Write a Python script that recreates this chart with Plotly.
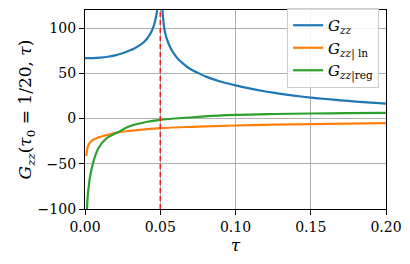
import plotly.graph_objects as go

# ---- data ----
tau0 = 0.05

tau_blue_left = [0.0, 0.005, 0.01, 0.015, 0.02, 0.025, 0.03, 0.033, 0.036, 0.039, 0.041, 0.043, 0.045, 0.046, 0.047, 0.048, 0.0487, 0.0493]
g_blue_left = [66.7, 66.9, 67.4, 68.3, 69.8, 72.1, 75.4, 77.8, 80.7, 84.4, 87.9, 92.6, 99.3, 104.3, 110.8, 120.3, 131.0, 145.0]
tau_blue_right = [0.0507, 0.0512, 0.0515, 0.052, 0.0526, 0.0535, 0.0548, 0.057, 0.0592, 0.062, 0.065, 0.068, 0.072, 0.076, 0.08,
                  0.085, 0.09, 0.095, 0.1, 0.11, 0.12, 0.13, 0.14, 0.15, 0.16, 0.17, 0.18, 0.19, 0.2]
g_blue_right = [145.0, 128.0, 119.0, 109.0, 100.5, 93.0, 86.0, 77.5, 71.4, 65.5, 60.9, 57.0, 52.9, 49.7, 46.6,
                43.6, 41.0, 38.7, 36.6, 33.0, 29.9, 27.3, 25.1, 23.2, 21.6, 20.1, 18.8, 17.6, 16.6]

tau_ln = [0.0009, 0.0013, 0.002, 0.003, 0.0046, 0.009, 0.0156, 0.022, 0.0296, 0.04, 0.05, 0.075, 0.1, 0.125, 0.15, 0.175, 0.2]
g_ln = [-41.5, -35.5, -30.6, -27.2, -24.4, -20.8, -17.8, -15.3, -13.6, -11.9, -10.6, -9.0, -7.7, -6.8, -6.1, -5.6, -5.1]

tau_reg = [0.0013, 0.0018, 0.0024, 0.0035, 0.0057, 0.009, 0.0145, 0.022, 0.0296, 0.0406, 0.05, 0.075, 0.1, 0.125, 0.15, 0.175, 0.2]
g_reg = [-100.0, -86.0, -76.0, -63.0, -47.0, -32.5, -21.5, -15.0, -8.5, -3.8, -1.4, 1.8, 4.0, 5.0, 5.6, 6.0, 6.2]

x_ticks = [0.0, 0.05, 0.10, 0.15, 0.20]
x_tick_labels = ["0.00", "0.05", "0.10", "0.15", "0.20"]
y_ticks = [-100, -50, 0, 50, 100]
y_tick_labels = ["\u2212100", "\u221250", "0", "50", "100"]
x_range = [0.0, 0.2]
y_range = [-100, 120]

FONT = "DejaVu Serif"
blue, orange, green = "#1f77b4", "#ff7f0e", "#2ca02c"

fig = go.Figure()
fig.add_trace(go.Scatter(
    x=tau_blue_left + [None] + tau_blue_right,
    y=g_blue_left + [None] + g_blue_right,
    mode="lines", line=dict(color=blue, width=2.2, shape="spline", smoothing=0.6),
    name="<i>G</i><sub><i>zz</i></sub>", connectgaps=False))
fig.add_trace(go.Scatter(
    x=tau_ln, y=g_ln, mode="lines",
    line=dict(color=orange, width=2.2, shape="spline", smoothing=1.0),
    name="<i>G</i><sub><i>zz</i>| ln</sub>"))
fig.add_trace(go.Scatter(
    x=tau_reg, y=g_reg, mode="lines",
    line=dict(color=green, width=2.2, shape="spline", smoothing=1.0),
    name="<i>G</i><sub><i>zz</i>|reg</sub>"))
fig.add_trace(go.Scatter(
    x=[tau0, tau0], y=y_range, mode="lines",
    line=dict(color="#ee2222", width=1.5, dash="5px,3px"),
    showlegend=False, hoverinfo="skip"))

axis_common = dict(
    showline=True, linecolor="black", linewidth=1.3, mirror=True,
    ticks="outside", ticklen=5, tickwidth=1.1, tickcolor="black",
    showgrid=True, gridcolor="#b0b0b0", gridwidth=1, zeroline=False,
    tickfont=dict(family=FONT, size=14, color="black"),
)

fig.update_xaxes(range=x_range, tickvals=x_ticks, ticktext=x_tick_labels,
                 title=dict(text="<i>τ</i>", font=dict(family=FONT, size=17, color="black"), standoff=5),
                 **axis_common)
fig.update_yaxes(range=y_range, tickvals=y_ticks, ticktext=y_tick_labels,
                 title=dict(text="<i>G</i><sub><i>zz</i></sub>(<i>τ</i><sub>0</sub> = 1/20, <i>τ</i>)",
                            font=dict(family=FONT, size=17, color="black"), standoff=1),
                 **axis_common)

fig.update_layout(
    width=410, height=264,
    margin=dict(l=85, r=21, t=8, b=55),
    paper_bgcolor="white", plot_bgcolor="white",
    font=dict(family=FONT, color="black"),
    legend=dict(x=0.977, y=1.01, xanchor="right", yanchor="top",
                bgcolor="rgba(255,255,255,0.85)", bordercolor="#cccccc", borderwidth=1,
                font=dict(family=FONT, size=15, color="black"),
                itemwidth=30, tracegroupgap=0),
    showlegend=True,
)

fig.write_html("out.html")
